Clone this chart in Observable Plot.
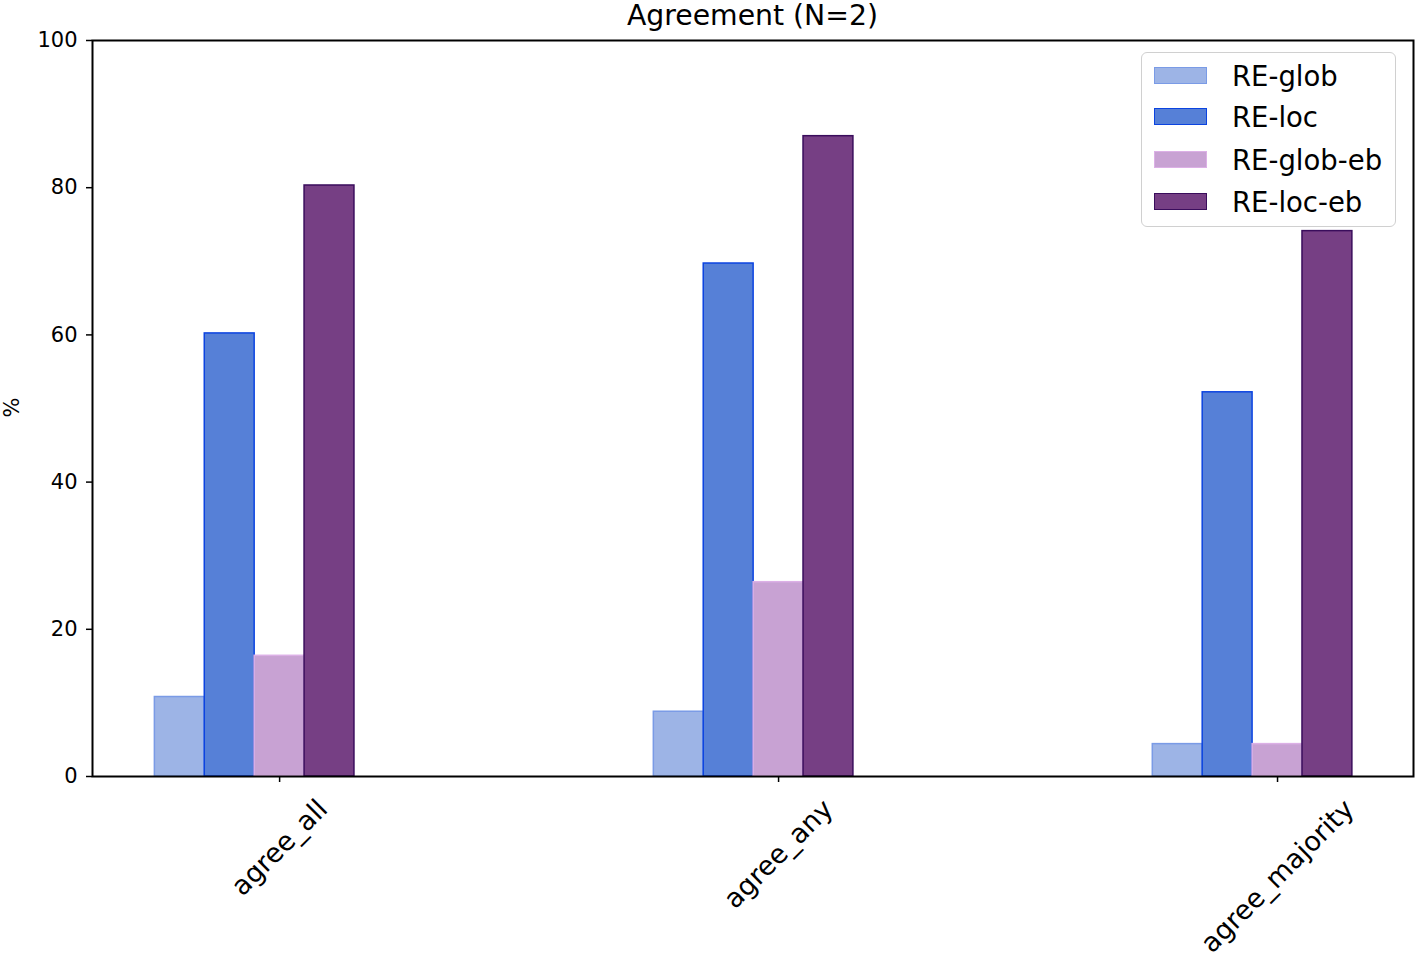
<!DOCTYPE html>
<html>
<head>
<meta charset="utf-8">
<script src="https://cdn.jsdelivr.net/npm/d3@7"></script>
<script src="https://cdn.jsdelivr.net/npm/@observablehq/plot@0.6"></script>
<style>
  html, body { margin: 0; padding: 0; background: white; }
  #wrap { position: relative; width: 1416px; height: 956px; font-family: "DejaVu Sans", sans-serif; }
  #title { position: absolute; left: 92px; top: 0; width: 1321px; height: 32px; line-height: 32px; text-align: center; font-size: 28.3px; color: #000; }
  #chart { position: absolute; left: 0; top: 32px; }
  #legend { position: absolute; left: 1141px; top: 52px; width: 253px; height: 173px; border: 1.5px solid #d0d0d0; border-radius: 6px; background: rgba(255,255,255,0.85); box-sizing: content-box; }
  .row { position: absolute; left: 0; height: 30px; display: flex; align-items: center; }
  .sw { position: absolute; left: 12px; width: 51px; height: 15px; border-width: 1.5px; border-style: solid; }
  .lab { position: absolute; left: 90px; font-size: 27.5px; white-space: nowrap; line-height: 30px; }
</style>
</head>
<body>
<div id="wrap">
  <div id="title">Agreement (N=2)</div>
  <div id="chart"></div>
  <div id="legend"></div>
</div>
<script>
const categories = ["agree_all", "agree_any", "agree_majority"];
const series = ["RE-glob", "RE-loc", "RE-glob-eb", "RE-loc-eb"];
const reGlob = [10.8, 8.8, 4.4];
const reLoc = [60.2, 69.7, 52.2];
const reGlobEb = [16.4, 26.4, 4.4];
const reLocEb = [80.3, 87.0, 74.1];
const fills = ["#9db4e6", "#5680d7", "#c8a2d3", "#763f84"];
const strokes = ["#7a9be6", "#0b43e0", "#dcb0e6", "#3a0d5c"];
const yTicks = [0, 20, 40, 60, 80, 100];
const xTicks = [0, 1, 2];
const barWidth = 0.1;

const seriesValues = [reGlob, reLoc, reGlobEb, reLocEb];
const data = series.flatMap((s, si) =>
  seriesValues[si].map((v, ci) => ({series: s, si, ci, category: categories[ci], value: v}))
);

const chart = Plot.plot({
  width: 1416,
  height: 924,
  marginTop: 8,
  marginLeft: 92,
  marginRight: 3,
  marginBottom: 180,
  style: {fontFamily: "DejaVu Sans, sans-serif", background: "white", color: "black", overflow: "visible"},
  x: {type: "linear", domain: [-0.375, 2.2725]},
  y: {domain: [0, 100]},
  marks: [
    Plot.rectY(data, {
      x1: d => d.ci + (d.si - 2) * barWidth - barWidth / 2,
      x2: d => d.ci + (d.si - 2) * barWidth + barWidth / 2,
      y: "value",
      fill: d => fills[d.si],
      stroke: d => strokes[d.si],
      strokeWidth: 1.5
    }),
    Plot.axisY({ticks: yTicks, tickSize: 6, tickPadding: 9, fontSize: 21, label: null, strokeWidth: 1.5}),
    Plot.axisX({ticks: xTicks, tickFormat: i => categories[i], tickRotate: -45, tickSize: 6, fontSize: 27, label: null, strokeWidth: 1.5}),
    Plot.frame({stroke: "black", strokeWidth: 2}),
    Plot.text(["%"], {text: d => d, frameAnchor: "left", dx: -80, dy: 9, rotate: -90, fontSize: 21})
  ]
});

document.getElementById("chart").append(chart);

// Align rotated x tick labels like matplotlib (centered on tick, top aligned)
const svgRect = chart.getBoundingClientRect();
const labelTop = 793 - 32; // in svg coords
chart.querySelectorAll('g[aria-label="x-axis tick label"] text').forEach((t, i) => {
  const r = t.getBoundingClientRect();
  const cx = r.left + r.width / 2 - svgRect.left;
  const top = r.top - svgRect.top;
  const tickX = 92 + (xTicks[i] + 0.375) / (2.2725 + 0.375) * (1416 - 92 - 3);
  const old = t.getAttribute("transform") || "";
  t.setAttribute("transform", `translate(${tickX - cx},${labelTop - top}) ` + old);
});

// Legend
const legend = document.getElementById("legend");
const rowTops = [8, 49, 92, 134];
series.forEach((s, i) => {
  const row = document.createElement("div");
  row.className = "row";
  row.style.top = rowTops[i] + "px";
  row.style.width = "250px";
  const sw = document.createElement("div");
  sw.className = "sw";
  sw.style.background = fills[i];
  sw.style.borderColor = strokes[i];
  sw.style.top = "6px";
  const lab = document.createElement("div");
  lab.className = "lab";
  lab.textContent = s;
  row.append(sw, lab);
  legend.append(row);
});
</script>
</body>
</html>
